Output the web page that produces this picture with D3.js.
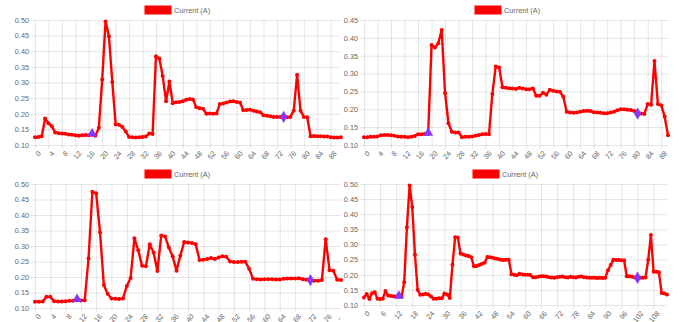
<!DOCTYPE html>
<html>
<meta charset="utf-8">
<style>
body { margin: 0; padding: 0; background: #fff; }
svg { display: block; }
.tick text { font-family: "Liberation Sans", Arial, sans-serif; font-size: 7.3px; fill: #666; }
.tick line { stroke: rgba(0,0,0,0.1); }
.legend text { font-family: "Liberation Sans", Arial, sans-serif; font-size: 7.3px; fill: #666; }
</style>
<body>
<svg id="chart" width="683" height="322"></svg>
<script src="https://cdn.jsdelivr.net/npm/d3@7"></script>
<script>
// current readings (A), one array per chart
var current1 = [0.125,0.126,0.128,0.185,0.170,0.160,0.140,0.138,0.137,0.136,0.134,0.133,0.131,0.130,0.131,0.132,0.131,0.133,0.130,0.155,
  0.310,0.495,0.448,0.302,0.166,0.165,0.158,0.143,0.126,0.125,0.124,0.125,0.126,0.127,0.137,0.135,0.384,0.377,0.321,0.240,
  0.303,0.234,0.237,0.238,0.240,0.245,0.247,0.246,0.221,0.218,0.216,0.200,0.201,0.200,0.201,0.231,0.233,0.236,0.239,0.240,
  0.238,0.236,0.211,0.212,0.213,0.210,0.207,0.205,0.195,0.194,0.192,0.190,0.190,0.190,0.190,0.189,0.190,0.210,0.325,0.210,
  0.190,0.189,0.128,0.129,0.128,0.128,0.127,0.127,0.125,0.124,0.124,0.125];
var current2 = [0.122,0.122,0.123,0.123,0.124,0.127,0.128,0.128,0.127,0.126,0.124,0.123,0.123,0.122,0.123,0.125,0.130,0.130,0.131,0.131,
  0.380,0.373,0.385,0.422,0.245,0.161,0.137,0.135,0.135,0.122,0.123,0.123,0.124,0.126,0.128,0.130,0.131,0.130,0.243,0.320,
  0.317,0.262,0.260,0.259,0.258,0.257,0.260,0.258,0.256,0.256,0.258,0.238,0.238,0.246,0.241,0.255,0.252,0.250,0.249,0.235,
  0.193,0.191,0.190,0.191,0.193,0.195,0.196,0.195,0.192,0.191,0.190,0.189,0.189,0.191,0.193,0.197,0.200,0.200,0.199,0.198,
  0.195,0.188,0.188,0.187,0.215,0.213,0.335,0.215,0.211,0.180,0.127];
var current3 = [0.120,0.120,0.121,0.136,0.136,0.122,0.121,0.121,0.122,0.123,0.123,0.125,0.124,0.125,0.260,0.475,0.470,0.344,0.174,0.146,
  0.131,0.130,0.129,0.131,0.171,0.197,0.325,0.286,0.236,0.235,0.306,0.279,0.219,0.334,0.331,0.295,0.266,0.220,0.269,0.313,
  0.311,0.310,0.306,0.255,0.256,0.258,0.261,0.258,0.263,0.267,0.265,0.250,0.248,0.248,0.249,0.249,0.226,0.194,0.193,0.192,
  0.193,0.193,0.193,0.192,0.192,0.194,0.195,0.195,0.195,0.196,0.193,0.191,0.190,0.188,0.188,0.190,0.322,0.222,0.220,0.191,
  0.190];
var current4 = [0.125,0.136,0.120,0.139,0.142,0.121,0.120,0.121,0.146,0.131,0.130,0.129,0.128,0.127,0.127,0.175,0.357,0.495,0.424,0.267,
  0.150,0.134,0.135,0.137,0.135,0.128,0.121,0.121,0.122,0.122,0.138,0.135,0.123,0.233,0.324,0.323,0.270,0.267,0.264,0.262,
  0.258,0.228,0.229,0.232,0.236,0.240,0.259,0.258,0.256,0.254,0.252,0.250,0.249,0.250,0.250,0.202,0.200,0.198,0.203,0.201,
  0.200,0.200,0.199,0.192,0.192,0.193,0.195,0.195,0.194,0.192,0.191,0.190,0.192,0.193,0.194,0.192,0.191,0.193,0.192,0.191,
  0.193,0.194,0.192,0.191,0.190,0.190,0.190,0.189,0.190,0.189,0.190,0.215,0.232,0.250,0.249,0.249,0.248,0.248,0.195,0.195,
  0.193,0.191,0.190,0.190,0.190,0.191,0.250,0.331,0.210,0.210,0.208,0.140,0.138,0.135];

// marked samples: [start (triangle), end (diamond)]
var marks1 = [17, 74];
var marks2 = [19, 81];
var marks3 = [11, 72];
var marks4 = [13, 102];

var yTicksA = [0.10,0.15,0.20,0.25,0.30,0.35,0.40,0.45,0.50];
var yTicksB = [0.10,0.15,0.20,0.25,0.30,0.35,0.40,0.45];
var legendLabel = "Current (A)";

var panels = [
  {data: current1, marks: marks1, yTicks: yTicksA, step: 4, left: 35, right: 340.8, top: 20, bottom: 145, legendX: 145, legendY: 6, clip: [0, 0, 344, 161], labelClip: 340},
  {data: current2, marks: marks2, yTicks: yTicksB, step: 4, left: 364, right: 668, top: 20, bottom: 145, legendX: 475, legendY: 6, clip: [340, 0, 343, 161], labelClip: 683},
  {data: current3, marks: marks3, yTicks: yTicksA, step: 4, left: 35, right: 341, top: 184, bottom: 308, legendX: 145, legendY: 170, clip: [0, 161, 344, 161], labelClip: 340},
  {data: current4, marks: marks4, yTicks: yTicksA, step: 6, left: 364, right: 667, top: 184, bottom: 305, legendX: 473, legendY: 170, clip: [340, 161, 343, 161], labelClip: 683}
];

var svg = d3.select("#chart");
var defs = svg.append("defs");
var red = "#ff0000", marker = "#8338ff";

panels.forEach(function(p, k) {
  defs.append("clipPath").attr("id", "clip" + k)
    .append("rect").attr("x", p.clip[0]).attr("y", p.clip[1]).attr("width", p.clip[2]).attr("height", p.clip[3]);
  defs.append("clipPath").attr("id", "lclip" + k)
    .append("rect").attr("x", p.clip[0]).attr("y", p.clip[1]).attr("width", p.labelClip - p.clip[0]).attr("height", p.clip[3]);

  var n = p.data.length;
  var x = d3.scaleLinear().domain([0, n - 1]).range([p.left, p.right]);
  var y = d3.scaleLinear().domain([p.yTicks[0], p.yTicks[p.yTicks.length - 1]]).range([p.bottom, p.top]);
  var w = p.right - p.left, h = p.bottom - p.top;

  var g = svg.append("g").attr("clip-path", "url(#lclip" + k + ")");

  // y grid + labels
  var ya = g.append("g")
    .attr("transform", "translate(" + (p.left - 4) + ",0)")
    .call(d3.axisLeft(y).tickValues(p.yTicks).tickSize(-(w + 4)).tickPadding(2).tickFormat(d3.format(".2f")));
  ya.select(".domain").remove();

  // x grid + rotated labels
  var xt = d3.range(0, n, p.step);
  var xa = g.append("g")
    .attr("transform", "translate(0," + (p.bottom + 4) + ")")
    .call(d3.axisBottom(x).tickValues(xt).tickSize(-(h + 4)).tickFormat(d3.format("d")));
  xa.select(".domain").remove();
  xa.selectAll("text")
    .attr("y", 0).attr("dy", "0.35em")
    .attr("text-anchor", "end")
    .attr("transform", "translate(4,3) rotate(-50)");

  // legend
  var lg = svg.append("g").attr("class", "legend");
  lg.append("rect").attr("x", p.legendX).attr("y", p.legendY).attr("width", 26).attr("height", 8)
    .attr("fill", red).attr("stroke", red).attr("stroke-width", 1);
  lg.append("text").attr("x", p.legendX + 29).attr("y", p.legendY + 6.7).text(legendLabel);

  // series
  var s = svg.append("g").attr("clip-path", "url(#clip" + k + ")");
  var line = d3.line().x(function(d, i) { return x(i); }).y(function(d) { return y(d); });
  s.append("path").datum(p.data)
    .attr("fill", "none").attr("stroke", red).attr("stroke-width", 2.4)
    .attr("stroke-linejoin", "round").attr("d", line);
  s.selectAll(".dot").data(p.data).enter().append("circle")
    .attr("cx", function(d, i) { return x(i); })
    .attr("cy", function(d) { return y(d); })
    .attr("r", 2).attr("fill", red);

  s.append("path")
    .attr("d", d3.symbol().type(d3.symbolTriangle).size(42)())
    .attr("transform", "translate(" + x(p.marks[0]) + "," + (y(p.data[p.marks[0]]) - 1) + ")")
    .attr("fill", marker);
  s.append("path")
    .attr("d", d3.symbol().type(d3.symbolDiamond).size(44)())
    .attr("transform", "translate(" + x(p.marks[1]) + "," + y(p.data[p.marks[1]]) + ")")
    .attr("fill", marker);
});
</script>
</body>
</html>
